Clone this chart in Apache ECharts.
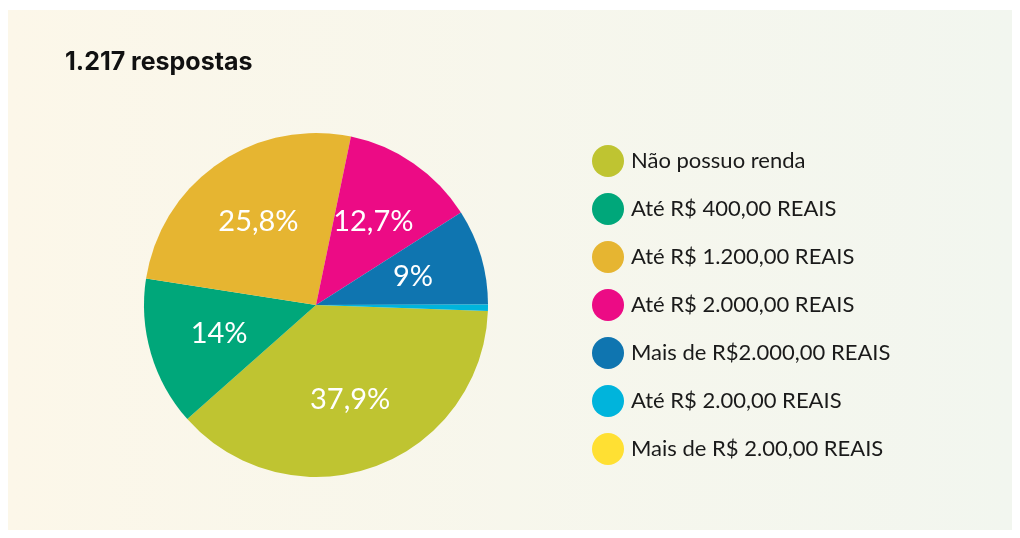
<!DOCTYPE html>
<html>
<head>
<meta charset="utf-8">
<script src="https://cdn.jsdelivr.net/npm/echarts@6/dist/echarts.min.js"></script>
<style>
  html, body { margin: 0; padding: 0; background: #ffffff; }
  #chart { width: 1020px; height: 538px; }
</style>
</head>
<body>
<div id="chart"></div>
<script>
const categories = [
  'Não possuo renda',
  'Até R$ 400,00 REAIS',
  'Até R$ 1.200,00 REAIS',
  'Até R$ 2.000,00 REAIS',
  'Mais de R$2.000,00 REAIS',
  'Até R$ 2.00,00 REAIS',
  'Mais de R$ 2.00,00 REAIS'
];
const percents = [37.9, 14, 25.8, 12.7, 9, 0.6, 0];
const colors = ['#bfc431', '#00a77a', '#e6b531', '#ec0b85', '#0f75b0', '#00b4dc', '#ffe033'];

const chart = echarts.init(document.getElementById('chart'));

const pieData = categories.map((name, i) => ({ name: name, value: percents[i] }));

// labels: show the percent with a comma, hide the tiny slices
function pctLabel(p) {
  if (p.value < 2) return '';
  return String(p.value).replace('.', ',') + '%';
}

chart.setOption({
  backgroundColor: '#ffffff',
  color: colors,
  graphic: [{
    type: 'rect',
    z: -10,
    silent: true,
    shape: { x: 8, y: 10, width: 1004, height: 520 },
    style: {
      fill: new echarts.graphic.LinearGradient(0, 0, 1, 0, [
        { offset: 0, color: '#fcf7e9' },
        { offset: 1, color: '#f2f6ef' }
      ])
    }
  }],
  title: {
    text: '1.217 respostas',
    left: 60,
    top: 45,
    textStyle: {
      fontFamily: 'Inter',
      fontWeight: 'bold',
      fontSize: 25,
      color: '#111111'
    }
  },
  legend: {
    orient: 'vertical',
    left: 587,
    top: 140,
    icon: 'circle',
    itemWidth: 32,
    itemHeight: 32,
    itemGap: 16,
    selectedMode: false,
    textStyle: {
      fontFamily: 'Lato',
      fontSize: 22,
      color: '#1a1a1a',
      padding: [0, 0, 0, 2]
    },
    data: categories
  },
  series: [{
    type: 'pie',
    center: [316, 305],
    radius: 172,
    startAngle: -2,
    clockwise: true,
    emphasis: { disabled: true },
    label: { show: false },
    labelLine: { show: false },
    data: pieData
  }, {
    // transparent copy, only used to place the labels a bit further out
    type: 'pie',
    center: [316, 305],
    radius: 196,
    startAngle: -2,
    clockwise: true,
    silent: true,
    z: 5,
    emphasis: { disabled: true },
    itemStyle: { color: 'rgba(0,0,0,0)' },
    label: {
      show: true,
      position: 'inside',
      color: '#ffffff',
      fontFamily: 'Lato',
      fontSize: 29,
      formatter: pctLabel
    },
    labelLine: { show: false },
    data: pieData
  }]
});
</script>
</body>
</html>
